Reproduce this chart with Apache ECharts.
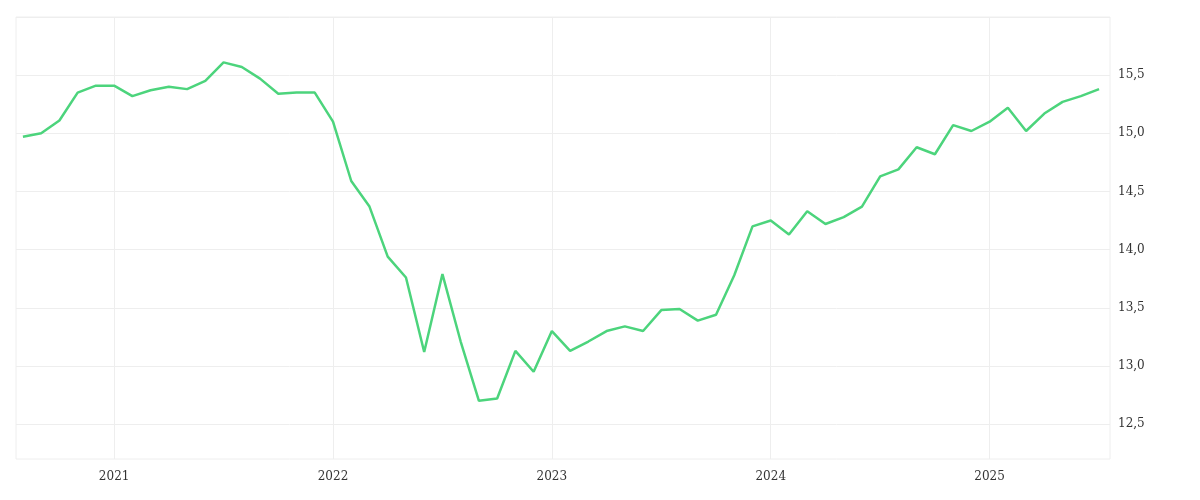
<!DOCTYPE html>
<html><head><meta charset="utf-8">
<script src="https://cdn.jsdelivr.net/npm/echarts@6/dist/echarts.min.js"></script>
<style>html,body{margin:0;padding:0;background:#fff}#c{width:1200px;height:500px}</style>
</head><body><div id="c"></div>
<script>
const months = ["2020-08","2020-09","2020-10","2020-11","2020-12","2021-01","2021-02","2021-03","2021-04","2021-05","2021-06","2021-07","2021-08","2021-09","2021-10","2021-11","2021-12","2022-01","2022-02","2022-03","2022-04","2022-05","2022-06","2022-07","2022-08","2022-09","2022-10","2022-11","2022-12","2023-01","2023-02","2023-03","2023-04","2023-05","2023-06","2023-07","2023-08","2023-09","2023-10","2023-11","2023-12","2024-01","2024-02","2024-03","2024-04","2024-05","2024-06","2024-07","2024-08","2024-09","2024-10","2024-11","2024-12","2025-01","2025-02","2025-03","2025-04","2025-05","2025-06","2025-07"];
const values = [14.97,15.00,15.11,15.35,15.41,15.41,15.32,15.37,15.40,15.38,15.45,15.61,15.57,15.47,15.34,15.35,15.35,15.10,14.59,14.37,13.94,13.76,13.12,13.79,13.21,12.70,12.72,13.13,12.95,13.30,13.13,13.21,13.30,13.34,13.30,13.48,13.49,13.39,13.44,13.78,14.20,14.25,14.13,14.33,14.22,14.28,14.37,14.63,14.69,14.88,14.82,15.07,15.02,15.10,15.22,15.02,15.17,15.27,15.32,15.38];
const yearTicks = [5,17,29,41,53];
const yearLabels = ["2021","2022","2023","2024","2025"];
const yTicks = [12.5,13,13.5,14,14.5,15,15.5,16];

const chart = echarts.init(document.getElementById('c'));
chart.setOption({
  animation:false,
  grid:{left:16,right:90,top:17,bottom:41,show:true,borderColor:'#eeeeee',borderWidth:1},
  xAxis:{type:'value',min:-0.38,max:59.6,
    axisLine:{show:false},
    axisTick:{show:false,customValues:yearTicks},
    axisLabel:{customValues:yearTicks,color:'#333',fontFamily:'DejaVu Serif',fontSize:12,margin:12,
      formatter:v=>yearLabels[yearTicks.indexOf(Math.round(v))]||''},
    splitLine:{show:true,lineStyle:{color:'#eeeeee'}}},
  yAxis:{type:'value',position:'right',min:12.2,max:16,
    axisLine:{show:false},axisTick:{show:false,customValues:yTicks},
    axisLabel:{customValues:yTicks.slice(0,7),color:'#333',fontFamily:'DejaVu Serif',fontSize:12,margin:8,
      formatter:v=>v.toFixed(1).replace('.',',')},
    splitLine:{show:true,lineStyle:{color:'#eeeeee'}}},
  series:[{type:'line',data:values.map((v,i)=>[i,v]),symbol:'none',
    lineStyle:{color:'#4cd47c',width:2.5}}]
});
</script></body></html>
